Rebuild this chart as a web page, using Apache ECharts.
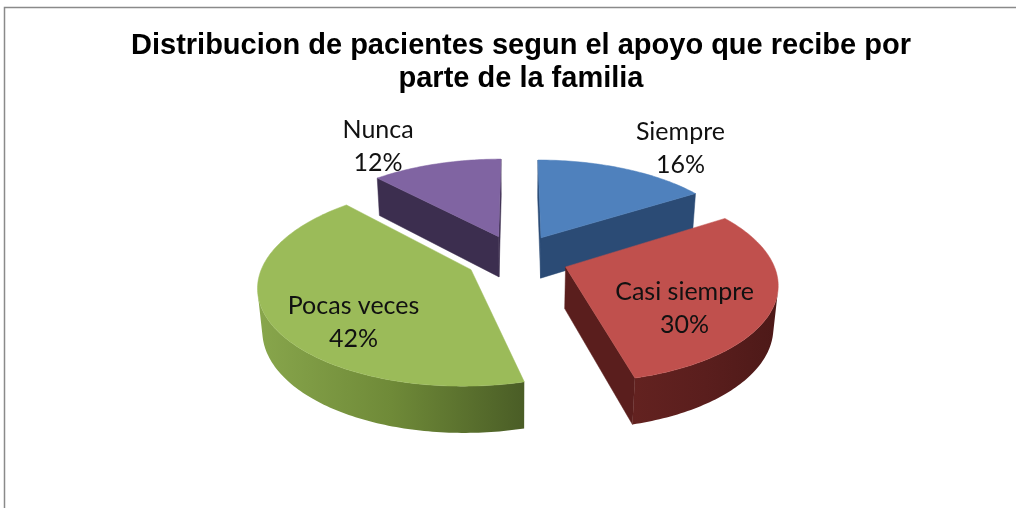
<!DOCTYPE html>
<html><head><meta charset="utf-8">
<script src="https://cdn.jsdelivr.net/npm/echarts@6/dist/echarts.min.js"></script>
<style>html,body{margin:0;padding:0;background:#fff}#chart{width:1016px;height:508px}</style>
</head><body><div id="chart"></div>
<script>
// ---- data ----
const titleText = 'Distribucion de pacientes segun el apoyo que recibe por\nparte de la familia';
const categories = ['Siempre', 'Casi siempre', 'Pocas veces', 'Nunca'];
const values = [16, 30, 42, 12];

// ---- styles ----
const topColors = ['#4F81BD', '#C0504D', '#9BBB59', '#8064A2'];
const sideStops = [
  ['#31558a', '#2a4a74', '#223d60'],
  ['#632220', '#5a1e1d', '#4d1918'],
  ['#88a64c', '#6f8a38', '#4a5d26'],
  ['#47385c', '#3d2f50', '#33273f']
];
const radialColors = ['#2b4b75', '#5a1e1d', '#56702c', '#3c2e4f'];
// label anchor in pie plane relative to slice apex: [radius, angle in degrees]
const labelPlace = [[1.45, 35.4], [0.65, 126.5], [0.70, 225.8], [1.41, 328.9]];
const VIEW = { cx: 517, cy: 258, K: 206, D: 5.9, tilt: 27.5, depth: 0.23, explode: 0.25 };

const RAD = Math.PI / 180;
const total = values.reduce((a, b) => a + b, 0);
const starts = [];
values.reduce((acc, v) => { starts.push(acc); return acc + v; }, 0);
const bisectors = values.map((v, i) => (starts[i] + v / 2) / total * 360);
// painter order: farther slices first
const order = bisectors.map((b, i) => [Math.cos(b * RAD), i]).sort((p, q) => q[0] - p[0]).map(p => p[1]);
const rank = [];
order.forEach((idx, r) => { rank[idx] = r; });

function project(u, v, y) {
  const a = VIEW.tilt * RAD;
  const yc = y * Math.cos(a) + v * Math.sin(a);
  const zc = v * Math.cos(a) - y * Math.sin(a);
  const s = VIEW.D / (VIEW.D + zc);
  return [VIEW.cx + VIEW.K * u * s, VIEW.cy - VIEW.K * yc * s];
}

function renderItem(params, api) {
  const i = params.dataIndex;
  const val = api.value(0);
  const a0 = starts[i] / total * 360;
  const a1 = (starts[i] + val) / total * 360;
  const bis = (a0 + a1) / 2 * RAD;
  const ou = VIEW.explode * Math.sin(bis), ov = VIEW.explode * Math.cos(bis);
  const H = -VIEW.depth;
  const ta = VIEW.tilt * RAD;
  const camV = -VIEW.D * Math.cos(ta);
  const pt = (r, deg, y) => project(ou + r * Math.sin(deg * RAD), ov + r * Math.cos(deg * RAD), y);
  const base = rank[i] * 10;
  const children = [];

  const n = Math.max(2, Math.ceil(a1 - a0));
  const angs = [];
  for (let k = 0; k <= n; k++) angs.push(a0 + (a1 - a0) * k / n);

  // radial walls
  const walls = [
    { ang: a0, nu: -Math.cos(a0 * RAD), nv: Math.sin(a0 * RAD) },
    { ang: a1, nu: Math.cos(a1 * RAD), nv: -Math.sin(a1 * RAD) }
  ];
  walls.forEach(w => {
    const pu = ou + 0.5 * Math.sin(w.ang * RAD), pv = ov + 0.5 * Math.cos(w.ang * RAD);
    if (w.nu * (0 - pu) + w.nv * (camV - pv) > 0) {
      children.push({
        type: 'polygon', z2: base + 1,
        shape: { points: [pt(0, w.ang, 0), pt(1, w.ang, 0), pt(1, w.ang, H), pt(0, w.ang, H)] },
        style: { fill: radialColors[i], stroke: radialColors[i], lineWidth: 0.5 }
      });
    }
  });

  // outer wall (visible runs)
  const vis = [];
  for (let k = 0; k < n; k++) {
    const m = (angs[k] + angs[k + 1]) / 2 * RAD;
    const nu = Math.sin(m), nv = Math.cos(m);
    const pu = ou + nu, pv = ov + nv;
    vis.push(nu * (0 - pu) + nv * (camV - pv) > 0);
  }
  let k = 0;
  while (k < n) {
    if (!vis[k]) { k++; continue; }
    let e = k;
    while (e < n && vis[e]) e++;
    const topPts = [], botPts = [];
    for (let j = k; j <= e; j++) { topPts.push(pt(1, angs[j], 0)); botPts.push(pt(1, angs[j], H)); }
    const stops = sideStops[i];
    children.push({
      type: 'polygon', z2: base + 1,
      shape: { points: topPts.concat(botPts.reverse()) },
      style: {
        fill: { type: 'linear', x: 0, y: 0, x2: 1, y2: 0,
          colorStops: stops.map((c, q) => ({ offset: q / (stops.length - 1), color: c })) },
        stroke: null
      }
    });
    k = e;
  }

  // top face
  const topFace = [pt(0, a0, 0)];
  angs.forEach(a => topFace.push(pt(1, a, 0)));
  children.push({
    type: 'polygon', z2: base + 2,
    shape: { points: topFace },
    style: { fill: topColors[i], stroke: topColors[i], lineWidth: 0.5 }
  });

  // label
  const lp = labelPlace[i];
  const lpt = pt(lp[0], lp[1], 0);
  children.push({
    type: 'text', z2: 100,
    x: lpt[0], y: lpt[1] + 1,
    style: {
      text: categories[i] + '\n' + Math.round(val / total * 100) + '%',
      align: 'center', verticalAlign: 'middle',
      fontFamily: 'Lato', fontSize: 25, lineHeight: 33, fill: '#111'
    }
  });
  return { type: 'group', children };
}

const chart = echarts.init(document.getElementById('chart'), null, { renderer: 'canvas' });
chart.setOption({
  animation: false,
  backgroundColor: '#fff',
  title: {
    text: titleText, left: 521, top: 29, padding: 0, textAlign: 'center',
    textStyle: { fontFamily: 'Liberation Sans', fontWeight: 'bold', fontSize: 29, lineHeight: 33, color: '#000' }
  },
  graphic: [{
    type: 'rect', silent: true, z: -1,
    shape: { x: 4.5, y: 7.5, width: 1100, height: 600 },
    style: { fill: null, stroke: '#8a8a8a', lineWidth: 1.5 }
  }],
  series: [{
    type: 'custom',
    coordinateSystem: 'none',
    data: values.map((v, i) => ({ name: categories[i], value: v })),
    renderItem: renderItem
  }]
});
</script></body></html>
